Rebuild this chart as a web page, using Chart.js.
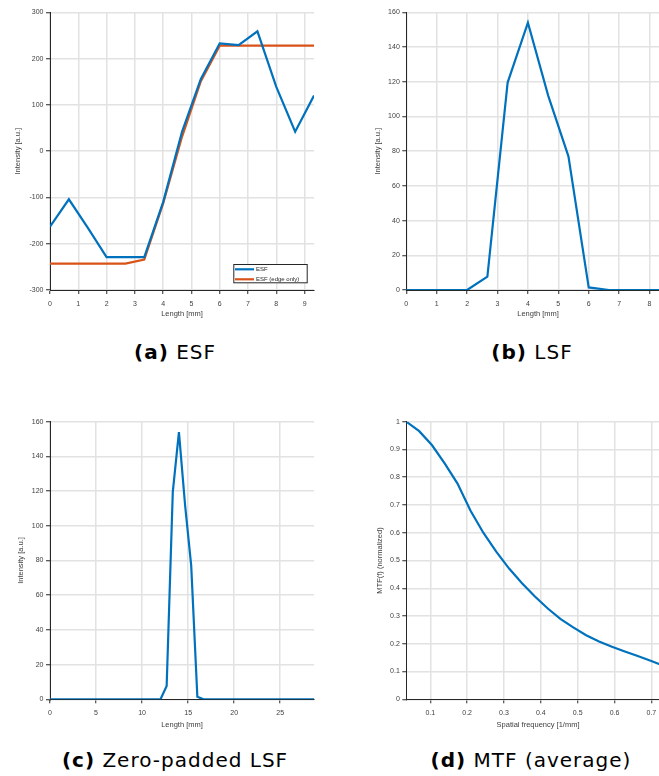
<!DOCTYPE html>
<html>
<head>
<meta charset="utf-8">
<script src="https://cdn.jsdelivr.net/npm/chart.js@4.4.1/dist/chart.umd.min.js"></script>
<style>
    html, body { margin: 0; padding: 0; background: #fff; }
    #page { position: relative; width: 659px; height: 776px; overflow: hidden; }
    canvas { position: absolute; }
    .cap {
        position: absolute; width: 330px; text-align: center; white-space: nowrap;
        font-family: "DejaVu Sans", sans-serif; font-size: 20px; line-height: 24px;
        letter-spacing: 1px; color: #000;
    }
</style>
</head>
<body>
<div id="page">
    <canvas id="esf_chart" width="330" height="330" style="left:0px;top:0px"></canvas>
    <canvas id="lsf_chart" width="320" height="330" style="left:356px;top:0px"></canvas>
    <canvas id="pad_chart" width="330" height="330" style="left:0px;top:400px"></canvas>
    <canvas id="mtf_chart" width="320" height="330" style="left:356px;top:400px"></canvas>
    <div class="cap" style="left:10px;top:340px"><b>(a)</b> ESF</div>
    <div class="cap" style="left:367px;top:340px"><b>(b)</b> LSF</div>
    <div class="cap" style="left:10px;top:748px"><b>(c)</b> Zero-padded LSF</div>
    <div class="cap" style="left:366px;top:748px"><b>(d)</b> MTF (average)</div>
</div>
<script>
"use strict";

// (a) edge spread function
let esfX = [0, 0.667, 1.333, 2, 2.667, 3.333, 4, 4.667, 5.333, 6, 6.667, 7.333, 8, 8.667, 9.333];
let esfVals = [-163, -104, -165, -229, -229, -229, -110, 42, 156, 233, 229, 259, 139, 42, 120];
let esfEdgeVals = [-243, -243, -243, -243, -243, -234, -113, 31, 151, 228, 228, 228, 228, 228, 228];

// (b) line spread function
let lsfX = [0, 0.667, 1.333, 2, 2.667, 3.333, 4, 4.667, 5.333, 6, 6.667, 7.333, 8, 8.667];
let lsfVals = [0, 0, 0, 0, 7.7, 119.5, 154, 112, 77, 1.5, 0, 0, 0, 0];

// (c) zero-padded LSF
let padX = [0, 0.667, 1.333, 2, 2.667, 3.333, 4, 4.667, 5.333, 6, 6.667, 7.333, 8, 8.667, 9.333,
    10, 10.667, 11.333, 12, 12.667, 13.333, 14, 14.667, 15.333, 16, 16.667, 17.333, 18, 18.667,
    19.333, 20, 20.667, 21.333, 22, 22.667, 23.333, 24, 24.667, 25.333, 26, 26.667, 27.333, 28, 28.667];
let padVals = [0, 0, 0, 0, 0, 0, 0, 0, 0, 0, 0, 0, 0, 0, 0,
    0, 0, 0, 0, 7.7, 119.5, 154, 112, 77, 1.5, 0, 0, 0, 0,
    0, 0, 0, 0, 0, 0, 0, 0, 0, 0, 0, 0, 0, 0, 0];

// (d) MTF
let mtfX = [0.035, 0.070, 0.105, 0.140, 0.174, 0.209, 0.244, 0.279, 0.314, 0.349, 0.384,
    0.419, 0.453, 0.488, 0.523, 0.558, 0.593, 0.628, 0.663, 0.698, 0.733];
let mtfVals = [1.0, 0.966, 0.915, 0.848, 0.777, 0.68, 0.6, 0.532, 0.471, 0.418, 0.37,
    0.327, 0.29, 0.259, 0.231, 0.208, 0.189, 0.172, 0.156, 0.139, 0.121];

const BLUE = "#0072BD";
const ORANGE = "#D95319";
const AXIS = "#262626";
const TEXT = "#404040";
const GRID = "#e2e2e2";
const FONT = "'Liberation Sans', Arial, sans-serif";

function points(xs, ys) {
    return xs.map(function(x, i) { return {x: x, y: ys[i]}; });
}

// MATLAB prints 1 rather than 1.0
function tickText(v) {
    return String(Number(v.toFixed(3)));
}

// small boxed legend in the lower right corner, like the MATLAB one
let cornerLegend = {
    id: "cornerLegend",
    afterDraw: function(chart) {
        if (!chart.options.plugins.cornerLegend.show) return;
        let ctx = chart.ctx;
        let area = chart.chartArea;
        let w = 74.4, h = 19.3;
        let x0 = area.right - 6.3 - w;
        let y0 = area.bottom - 6.7 - h;
        ctx.save();
        ctx.fillStyle = "#fff";
        ctx.fillRect(x0, y0, w, h);
        ctx.strokeStyle = AXIS;
        ctx.lineWidth = 1;
        ctx.strokeRect(x0 + 0.5, y0 + 0.5, w - 1, h - 1);
        ctx.font = "6px " + FONT;
        ctx.textBaseline = "middle";
        chart.data.datasets.forEach(function(ds, i) {
            let y = y0 + 5.3 + i * 10;
            ctx.strokeStyle = ds.borderColor;
            ctx.lineWidth = 2.2;
            ctx.beginPath();
            ctx.moveTo(x0 + 1.7, y);
            ctx.lineTo(x0 + 20.7, y);
            ctx.stroke();
            ctx.fillStyle = AXIS;
            ctx.fillText(ds.label, x0 + 22.7, y);
        });
        ctx.restore();
    }
};

function makePlot(id, datasets, o) {
    let chart = new Chart(document.getElementById(id), {
        type: "line",
        data: {datasets: datasets},
        plugins: [cornerLegend],
        options: {
            responsive: false,
            animation: false,
            layout: {padding: {top: o.padTop, right: o.padRight, left: 0, bottom: 0}},
            elements: {point: {radius: 0}, line: {tension: 0, borderWidth: 2.2}},
            plugins: {
                legend: {display: false},
                tooltip: {enabled: false},
                cornerLegend: {show: !!o.legend}
            },
            scales: {
                x: {
                    type: "linear",
                    min: o.xMin, max: o.xMax,
                    ticks: {stepSize: o.xStep, includeBounds: false, color: TEXT, callback: tickText,
                        font: {family: FONT, size: 7}, padding: 6, maxRotation: 0},
                    grid: {color: GRID, lineWidth: 1.5, tickColor: AXIS, tickLength: 4, tickWidth: 1},
                    border: {color: AXIS, width: 1},
                    title: {display: true, text: o.xTitle, color: TEXT,
                        font: {family: FONT, size: 7.5}, padding: {top: 0, bottom: o.xTitlePad}},
                    afterFit: function(s) { s.height = o.xH; s.paddingLeft = 0; s.paddingRight = 0; }
                },
                y: {
                    min: o.yMin, max: o.yMax,
                    ticks: {stepSize: o.yStep, includeBounds: false, color: TEXT, callback: tickText,
                        font: {family: FONT, size: 7}, padding: 2.5},
                    grid: {color: GRID, lineWidth: 1.5, tickColor: AXIS, tickLength: 4, tickWidth: 1},
                    border: {color: AXIS, width: 1},
                    title: {display: true, text: o.yTitle, color: TEXT,
                        font: {family: FONT, size: 7.5}, padding: {top: o.yTitlePad, bottom: 0}},
                    afterFit: function(s) { s.width = o.yW; s.paddingTop = 0; s.paddingBottom = 0; }
                }
            }
        }
    });
    return chart;
}

makePlot("esf_chart", [
    {label: "ESF", data: points(esfX, esfVals), borderColor: BLUE},
    {label: "ESF (edge only)", data: points(esfX, esfEdgeVals), borderColor: ORANGE}
], {
    padTop: 12.3, padRight: 16, xH: 40, yW: 50,
    xMin: 0, xMax: 9.333, xStep: 1, yMin: -300, yMax: 300, yStep: 100,
    xTitle: "Length [mm]", yTitle: "Intensity [a.u.]", xTitlePad: 11.5, yTitlePad: 13.5,
    legend: true
});

makePlot("lsf_chart", [
    {label: "LSF", data: points(lsfX, lsfVals), borderColor: BLUE}
], {
    padTop: 12.3, padRight: 6.2, xH: 40, yW: 50.3,
    xMin: 0, xMax: 8.667, xStep: 1, yMin: 0, yMax: 160, yStep: 20,
    xTitle: "Length [mm]", yTitle: "Intensity [a.u.]", xTitlePad: 11.5, yTitlePad: 17.5
});

makePlot("pad_chart", [
    {label: "LSF", data: points(padX, padVals), borderColor: BLUE}
], {
    padTop: 21.7, padRight: 16, xH: 30.7, yW: 50,
    xMin: 0, xMax: 28.667, xStep: 5, yMin: 0, yMax: 160, yStep: 20,
    xTitle: "Length [mm]", yTitle: "Intensity [a.u.]", xTitlePad: 0.5, yTitlePad: 16.2
});

makePlot("mtf_chart", [
    {label: "MTF", data: points(mtfX, mtfVals), borderColor: BLUE}
], {
    padTop: 21.7, padRight: 6.2, xH: 30.7, yW: 50.3,
    xMin: 0.035, xMax: 0.75, xStep: 0.1, yMin: 0, yMax: 1, yStep: 0.1,
    xTitle: "Spatial frequency [1/mm]", yTitle: "MTF(f) (normalized)", xTitlePad: 0.5, yTitlePad: 19.5
});
</script>
</body>
</html>
